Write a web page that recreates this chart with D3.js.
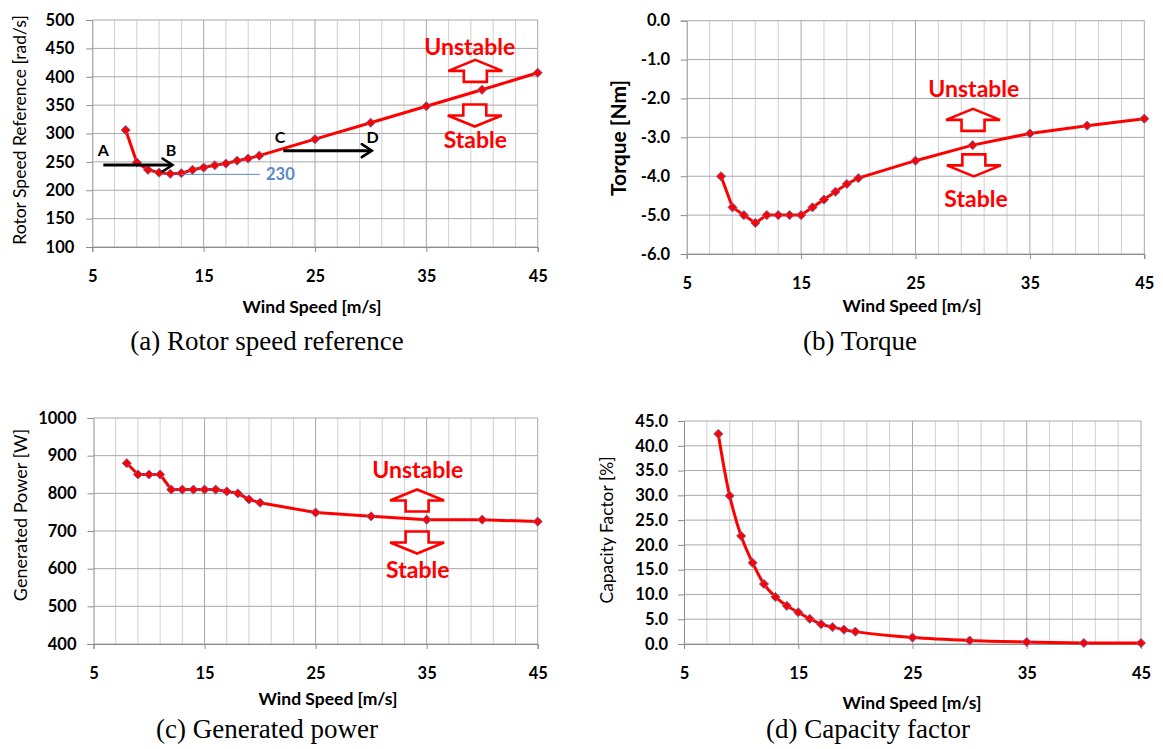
<!DOCTYPE html>
<html>
<head>
<meta charset="utf-8">
<script src="https://cdn.jsdelivr.net/npm/d3@7"></script>
<style>
  html, body { margin: 0; padding: 0; background: #fff; }
  svg { display: block; }
</style>
</head>
<body>
<svg id="chart" width="1163" height="749"></svg>
<script>
// ---------------- DATA ----------------
const windSpeed   = [8, 9, 10, 11, 12, 13, 14, 15, 16, 17, 18, 19, 20, 25, 30, 35, 40, 45];
const rotorSpeed  = [306, 249, 236, 231, 229, 230, 236, 240, 244, 247, 252, 256, 261, 290, 319, 348, 377, 407];
const torque      = [-4.0, -4.8, -5.0, -5.2, -5.0, -5.0, -5.0, -5.0, -4.8, -4.6, -4.4, -4.2, -4.05, -3.6, -3.2, -2.9, -2.7, -2.52];
const genPower    = [880, 850, 850, 850, 810, 810, 810, 810, 810, 805, 800, 784, 775, 749, 739, 730, 730, 725];
const capFactor   = [42.4, 29.9, 21.8, 16.4, 12.1, 9.5, 7.7, 6.4, 5.1, 4.0, 3.4, 2.9, 2.5, 1.3, 0.7, 0.4, 0.2, 0.2];

const xTickValues   = [5, 15, 25, 35, 45];
const rotorTicks    = [100, 150, 200, 250, 300, 350, 400, 450, 500];
const torqueTicks   = [-6, -5, -4, -3, -2, -1, 0];
const powerTicks    = [400, 500, 600, 700, 800, 900, 1000];
const capacityTicks = [0, 5, 10, 15, 20, 25, 30, 35, 40, 45];

const xTitle = "Wind Speed [m/s]";
const captions = ["(a) Rotor speed reference", "(b) Torque", "(c) Generated power", "(d) Capacity factor"];
const yTitles  = ["Rotor Speed Reference [rad/s]", "Torque [Nm]", "Generated Power [W]", "Capacity Factor [%]"];

// ---------------- DRAWING ----------------
const svg = d3.select("#chart");
svg.append("rect").attr("width", 1163).attr("height", 749).attr("fill", "#fff");

const FONT = "Lato, 'Open Sans', 'DejaVu Sans', sans-serif";
const RED = "#ff0000";

function blockArrow(g, cx, cy, dir) {
  const W = 54, H = 22, S = 23, h = 11;
  const s = dir === "up" ? 1 : -1;
  const pts = [
    [0, -H / 2],
    [W / 2, -H / 2 + h],
    [S / 2, -H / 2 + h],
    [S / 2, H / 2],
    [-S / 2, H / 2],
    [-S / 2, -H / 2 + h],
    [-W / 2, -H / 2 + h]
  ].map(p => [cx + p[0], cy + s * p[1]]);
  g.append("path")
    .attr("d", d3.line()(pts) + "Z")
    .attr("fill", "#fff")
    .attr("stroke", RED)
    .attr("stroke-width", 2.6)
    .attr("stroke-linejoin", "miter");
}

function drawPanel(cfg) {
  const g = svg.append("g");
  const x = d3.scaleLinear().domain([5, 45]).range([cfg.left, cfg.right]);
  const y = d3.scaleLinear().domain(cfg.yDomain).range([cfg.bottom, cfg.top]);

  // minor vertical grid (every 2 m/s)
  g.selectAll(".vminor").data(d3.range(7, 46, 2).filter(v => !xTickValues.includes(v)))
    .join("line")
    .attr("x1", d => x(d)).attr("x2", d => x(d))
    .attr("y1", cfg.top).attr("y2", cfg.bottom)
    .attr("stroke", "#d0d0d0").attr("stroke-width", 1);
  // major vertical grid
  g.selectAll(".vmajor").data(xTickValues.filter(v => v > 5))
    .join("line")
    .attr("x1", d => x(d)).attr("x2", d => x(d))
    .attr("y1", cfg.top).attr("y2", cfg.bottom)
    .attr("stroke", "#a8a8a8").attr("stroke-width", 1);
  // horizontal grid
  g.selectAll(".hgrid").data(cfg.yTicks)
    .join("line")
    .attr("x1", cfg.left).attr("x2", cfg.right)
    .attr("y1", d => y(d)).attr("y2", d => y(d))
    .attr("stroke", "#a8a8a8").attr("stroke-width", 1);

  // axes
  const ax = g.append("g").attr("transform", `translate(0,${cfg.bottom})`)
    .call(d3.axisBottom(x).tickValues(xTickValues).tickSize(5).tickPadding(18));
  const ay = g.append("g").attr("transform", `translate(${cfg.left},0)`)
    .call(d3.axisLeft(y).tickValues(cfg.yTicks).tickFormat(cfg.fmt).tickSize(6).tickPadding(cfg.yPad));
  [ax, ay].forEach(a => {
    a.select(".domain").attr("stroke", "#8c8c8c");
    a.selectAll(".tick line").attr("stroke", "#8c8c8c");
    a.selectAll(".tick text").attr("font-family", FONT).attr("font-size", 16.5)
      .attr("font-weight", "bold").attr("fill", "#000");
  });

  // axis titles
  g.append("text")
    .attr("x", cfg.xTitleX).attr("y", cfg.xTitleY)
    .attr("text-anchor", "middle").attr("dominant-baseline", "central")
    .attr("font-family", FONT).attr("font-size", 17.5).attr("font-weight", "bold")
    .text(xTitle);
  g.append("text")
    .attr("transform", `translate(${cfg.yTitleX},${cfg.yTitleY}) rotate(-90)`)
    .attr("text-anchor", "middle").attr("dominant-baseline", "central")
    .attr("font-family", FONT).attr("font-size", cfg.yTitleSize).attr("font-weight", cfg.yTitleWeight)
    .text(cfg.yTitle);

  // caption
  g.append("text")
    .attr("x", cfg.capX).attr("y", cfg.capY)
    .attr("text-anchor", "middle").attr("dominant-baseline", "central")
    .attr("font-family", "'Liberation Serif', 'Times New Roman', serif").attr("font-size", 27)
    .text(cfg.caption);

  // series
  const pts = windSpeed.map((w, i) => [w, cfg.values[i]]);
  g.append("path")
    .attr("d", d3.line().x(d => x(d[0])).y(d => y(d[1])).curve(cfg.curve)(pts))
    .attr("fill", "none").attr("stroke", RED).attr("stroke-width", 3)
    .attr("stroke-linejoin", "round");
  g.selectAll(".mk").data(pts).join("path")
    .attr("transform", d => `translate(${x(d[0])},${y(d[1])}) rotate(45)`)
    .attr("d", d3.symbol(d3.symbolSquare, 42))
    .attr("fill", RED).attr("stroke", "#6a6aa8").attr("stroke-width", 0.9);

  if (cfg.annot) cfg.annot(g, x, y);
}

function stabilityNote(g, x, y, a) {
  const txt = (t, w, v) => g.append("text")
    .attr("x", x(w)).attr("y", y(v)).attr("text-anchor", "middle")
    .attr("font-family", FONT).attr("font-size", 23).attr("font-weight", "bold")
    .attr("fill", RED).text(t);
  txt("Unstable", a.unstable[0], a.unstable[1]);
  blockArrow(g, x(a.up[0]), y(a.up[1]), "up");
  blockArrow(g, x(a.down[0]), y(a.down[1]), "down");
  txt("Stable", a.stable[0], a.stable[1]);
}

// annotation anchor positions (wind speed, value)
const noteA = { unstable: [38.9, 438], up: [39.4, 410.4], down: [39.35, 331.7], stable: [39.4, 274] };
const noteB = { unstable: [30.1, -1.97], up: [30.03, -2.55], down: [30.1, -3.72], stable: [30.29, -4.78] };
const noteC = { unstable: [34.2, 840], up: [34.14, 781], down: [34.14, 669.5], stable: [34.2, 574.5] };

const arrowAB = { from: [5.99, 244.5], to: [12.2, 244.5] };
const arrowCD = { from: [22.15, 269.7], to: [30.1, 269.7] };
const letters = [["A", 5.99, 261], ["B", 12.06, 261], ["C", 21.85, 282.7], ["D", 30.17, 282.7]];
const minLine = { from: [12.96, 228], to: [20.05, 228], label: "230", labelAt: [20.6, 228] };

function blackArrow(g, x, y, a) {
  const x1 = x(a.from[0]), x2 = x(a.to[0]), yy = y(a.from[1]);
  g.append("line").attr("x1", x1).attr("x2", x2 - 1).attr("y1", yy).attr("y2", yy)
    .attr("stroke", "#000").attr("stroke-width", 3);
  g.append("path")
    .attr("d", `M${x2 - 10},${yy - 6.5} L${x2},${yy} L${x2 - 10},${yy + 6.5}`)
    .attr("fill", "none").attr("stroke", "#000").attr("stroke-width", 2.6)
    .attr("stroke-linecap", "round").attr("stroke-linejoin", "miter");
}

drawPanel({
  left: 92.3, right: 537.7, top: 20, bottom: 247,
  yDomain: [100, 500], yTicks: rotorTicks, fmt: d3.format("d"), yPad: 12,
  values: rotorSpeed, curve: d3.curveLinear,
  yTitle: yTitles[0], yTitleX: 19.5, yTitleY: 130, yTitleSize: 17.5, yTitleWeight: "normal",
  xTitleX: 312, xTitleY: 306, caption: captions[0], capX: 267, capY: 341,
  annot: (g, x, y) => {
    g.append("line")
      .attr("x1", x(minLine.from[0])).attr("x2", x(minLine.to[0]))
      .attr("y1", y(minLine.from[1])).attr("y2", y(minLine.to[1]))
      .attr("stroke", "#5b8ac6").attr("stroke-width", 1);
    g.append("text").attr("x", x(minLine.labelAt[0])).attr("y", y(minLine.labelAt[1]))
      .attr("dominant-baseline", "central")
      .attr("font-family", FONT).attr("font-size", 16.5).attr("font-weight", "bold")
      .attr("fill", "#5b8ac6").text(minLine.label);
    blackArrow(g, x, y, arrowAB);
    blackArrow(g, x, y, arrowCD);
    letters.forEach(([t, w, v]) => g.append("text").attr("x", x(w)).attr("y", y(v))
      .attr("text-anchor", "middle").attr("font-family", FONT).attr("font-size", 16)
      .attr("font-weight", "bold").attr("fill", "#000").text(t));
    stabilityNote(g, x, y, noteA);
  }
});

drawPanel({
  left: 686.7, right: 1144.3, top: 20.7, bottom: 254,
  yDomain: [-6, 0], yTicks: torqueTicks, fmt: d => d.toFixed(1), yPad: 10.7,
  values: torque, curve: d3.curveLinear,
  yTitle: yTitles[1], yTitleX: 617, yTitleY: 138, yTitleSize: 21, yTitleWeight: "bold",
  xTitleX: 912, xTitleY: 305, caption: captions[1], capX: 860, capY: 341,
  annot: (g, x, y) => stabilityNote(g, x, y, noteB)
});

drawPanel({
  left: 93.5, right: 537.7, top: 418, bottom: 644,
  yDomain: [400, 1000], yTicks: powerTicks, fmt: d3.format("d"), yPad: 11,
  values: genPower, curve: d3.curveLinear,
  yTitle: yTitles[2], yTitleX: 19.5, yTitleY: 515, yTitleSize: 18, yTitleWeight: "normal",
  xTitleX: 328, xTitleY: 698, caption: captions[2], capX: 267, capY: 729,
  annot: (g, x, y) => stabilityNote(g, x, y, noteC)
});

drawPanel({
  left: 684, right: 1141, top: 421, bottom: 644,
  yDomain: [0, 45], yTicks: capacityTicks, fmt: d => d.toFixed(1), yPad: 10,
  values: capFactor, curve: d3.curveCatmullRom.alpha(0.5),
  yTitle: yTitles[3], yTitleX: 606, yTitleY: 530, yTitleSize: 17.4, yTitleWeight: "normal",
  xTitleX: 912, xTitleY: 702, caption: captions[3], capX: 868, capY: 729
});
</script>
</body>
</html>
